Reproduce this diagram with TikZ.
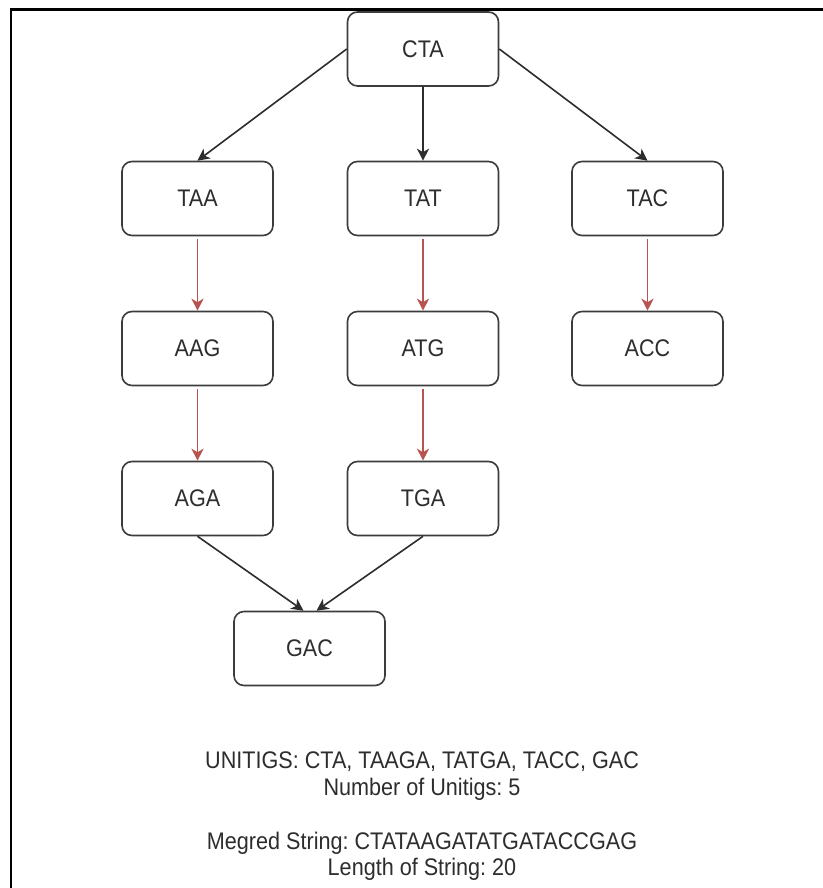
\documentclass[tikz,border=0pt]{standalone}
\usepackage{fontspec}
\setmainfont{Liberation Sans}
\newfontfamily\diafont[FakeStretch=0.9]{Liberation Sans}
\usetikzlibrary{arrows.meta}
\definecolor{boxline}{RGB}{60,60,60}
\definecolor{txt}{RGB}{45,45,45}
\definecolor{redline}{RGB}{184,84,80}
\definecolor{darkline}{RGB}{45,45,45}
\frenchspacing
\begin{document}
\begin{tikzpicture}[x=1pt,y=-1pt,
  kbox/.style={draw=boxline, line width=1.6pt, rounded corners=10pt,
    minimum width=151pt, minimum height=74pt, inner sep=0pt, text=txt,
    font=\diafont\fontsize{24}{26}\selectfont},
  tip/.style={-{Stealth[length=12pt,width=12pt,inset=3.5pt]}},
  blk/.style={tip, draw=darkline, line width=1.6pt},
  red/.style={tip, draw=redline, line width=1.6pt, shorten <=3pt},
  info/.style={anchor=base, text=txt, inner sep=0pt,
    font=\diafont\fontsize{24}{26}\selectfont}
]
\useasboundingbox (0,0) rectangle (822,888);
\fill[white] (0,0) rectangle (822,888);
% frame
\draw[line width=2.5pt, black] (11,890) -- (11,9.5) -- (824,9.5);

% nodes
\node[kbox] (CTA) at (423,49) {CTA};
\node[kbox] (TAA) at (197.5,198.5) {TAA};
\node[kbox] (TAT) at (423,198.5) {TAT};
\node[kbox] (TAC) at (647.5,198.5) {TAC};
\node[kbox] (AAG) at (197.5,348.5) {AAG};
\node[kbox] (ATG) at (423,348.5) {ATG};
\node[kbox] (ACC) at (647.5,348.5) {ACC};
\node[kbox] (AGA) at (197.5,498.5) {AGA};
\node[kbox] (TGA) at (423,498.5) {TGA};
\node[kbox] (GAC) at (309.5,648.5) {GAC};

% connectors
\draw[blk] (CTA.west) -- (TAA.north);
\draw[blk] (CTA.south) -- (TAT.north);
\draw[blk] (CTA.east) -- (TAC.north);
\draw[red] (TAA.south) -- (AAG.north);
\draw[red] (AAG.south) -- (AGA.north);
\draw[red] (TAT.south) -- (ATG.north);
\draw[red] (ATG.south) -- (TGA.north);
\draw[red] (TAC.south) -- (ACC.north);
\draw[blk] (AGA.south) -- ([xshift=-6pt]GAC.north);
\draw[blk] (TGA.south) -- ([xshift=7pt]GAC.north);

% info text
\node[info] (l1) at (422,768.5) {UNITIGS: CTA, TAAGA, TATGA, TACC, GAC};
\node[info] (l2) at (422,795) {Number of Unitigs: 5};
\node[info] (l3) at (422,849) {Megred String: CTATAAGATATGATACCGAG};
\node[info] (l4) at (422,875) {Length of String: 20};
\end{tikzpicture}
\end{document}
